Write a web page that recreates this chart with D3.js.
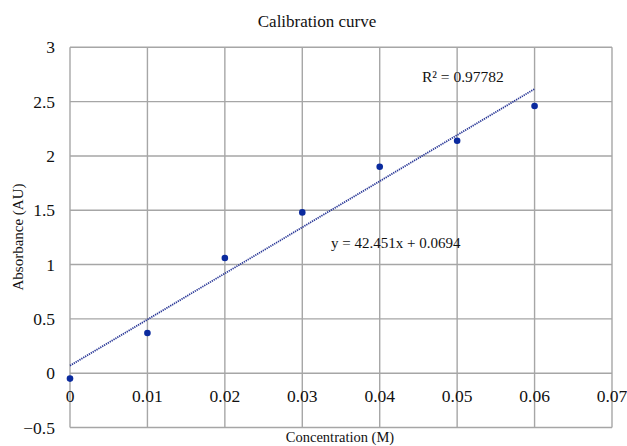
<!DOCTYPE html>
<html><head><meta charset="utf-8">
<script src="https://cdn.jsdelivr.net/npm/d3@7"></script>
<style>body{margin:0;background:#fff;} text{font-family:"Liberation Serif","Times New Roman",serif;fill:#111;}</style>
</head><body>
<svg id="c" width="627" height="446"></svg>
<script>
const concentration = [0, 0.01, 0.02, 0.03, 0.04, 0.05, 0.06];
const absorbance = [-0.05, 0.37, 1.06, 1.48, 1.90, 2.14, 2.46];
const xTicks = [0, 0.01, 0.02, 0.03, 0.04, 0.05, 0.06, 0.07];
const yTicks = [-0.5, 0, 0.5, 1, 1.5, 2, 2.5, 3];
const slope = 42.451, intercept = 0.0694, r2 = "0.97782";

const svg = d3.select("#c");
const L = 70, R = 612, T = 47.3, B = 427.5;
const x = d3.scaleLinear().domain([0, 0.07]).range([L, R]);
const y = d3.scaleLinear().domain([-0.5, 3]).range([B, T]);
const grid = "#a6a6a6";

svg.append("g").selectAll("line").data(yTicks).join("line")
  .attr("x1", L).attr("x2", R).attr("y1", d => y(d)).attr("y2", d => y(d))
  .attr("stroke", grid).attr("stroke-width", 1.4);
svg.append("g").selectAll("line").data(xTicks).join("line")
  .attr("y1", T).attr("y2", B).attr("x1", d => x(d)).attr("x2", d => x(d))
  .attr("stroke", grid).attr("stroke-width", 1.4);

svg.append("g").selectAll("text").data(yTicks).join("text")
  .attr("x", L - 15).attr("y", d => y(d) + 2).attr("text-anchor", "end")
  .attr("dominant-baseline", "middle").attr("font-size", 17.5)
  .text(d => d3.format("")(d));
svg.append("g").selectAll("text").data(xTicks).join("text")
  .attr("x", d => x(d)).attr("y", y(0) + 29).attr("text-anchor", "middle")
  .attr("font-size", 17.5).text(d => d3.format("")(d));

const tx = d3.extent(concentration);
svg.append("line")
  .attr("x1", x(tx[0])).attr("y1", y(slope * tx[0] + intercept))
  .attr("x2", x(tx[1])).attr("y2", y(slope * tx[1] + intercept))
  .attr("stroke", "#2c3a98").attr("stroke-width", 1.8).attr("stroke-dasharray", "1.3,0.9");

svg.append("g").selectAll("circle").data(concentration).join("circle")
  .attr("cx", d => x(d)).attr("cy", (d, i) => y(absorbance[i])).attr("r", 3.3)
  .attr("fill", "#0a2a9e");

svg.append("text").attr("x", 317).attr("y", 27).attr("text-anchor", "middle")
  .attr("font-size", 17).text("Calibration curve");
svg.append("text").attr("x", 340).attr("y", 442).attr("text-anchor", "middle")
  .attr("font-size", 14.5).text("Concentration (M)");
svg.append("text").attr("transform", "translate(23,237) rotate(-90)").attr("text-anchor", "middle")
  .attr("font-size", 15).text("Absorbance (AU)");

svg.append("text").attr("x", 422).attr("y", 82).attr("font-size", 15.5).text("R² = " + r2);
svg.append("text").attr("x", 331).attr("y", 248).attr("font-size", 15)
  .text("y = " + slope + "x + " + intercept);
</script>
</body></html>
